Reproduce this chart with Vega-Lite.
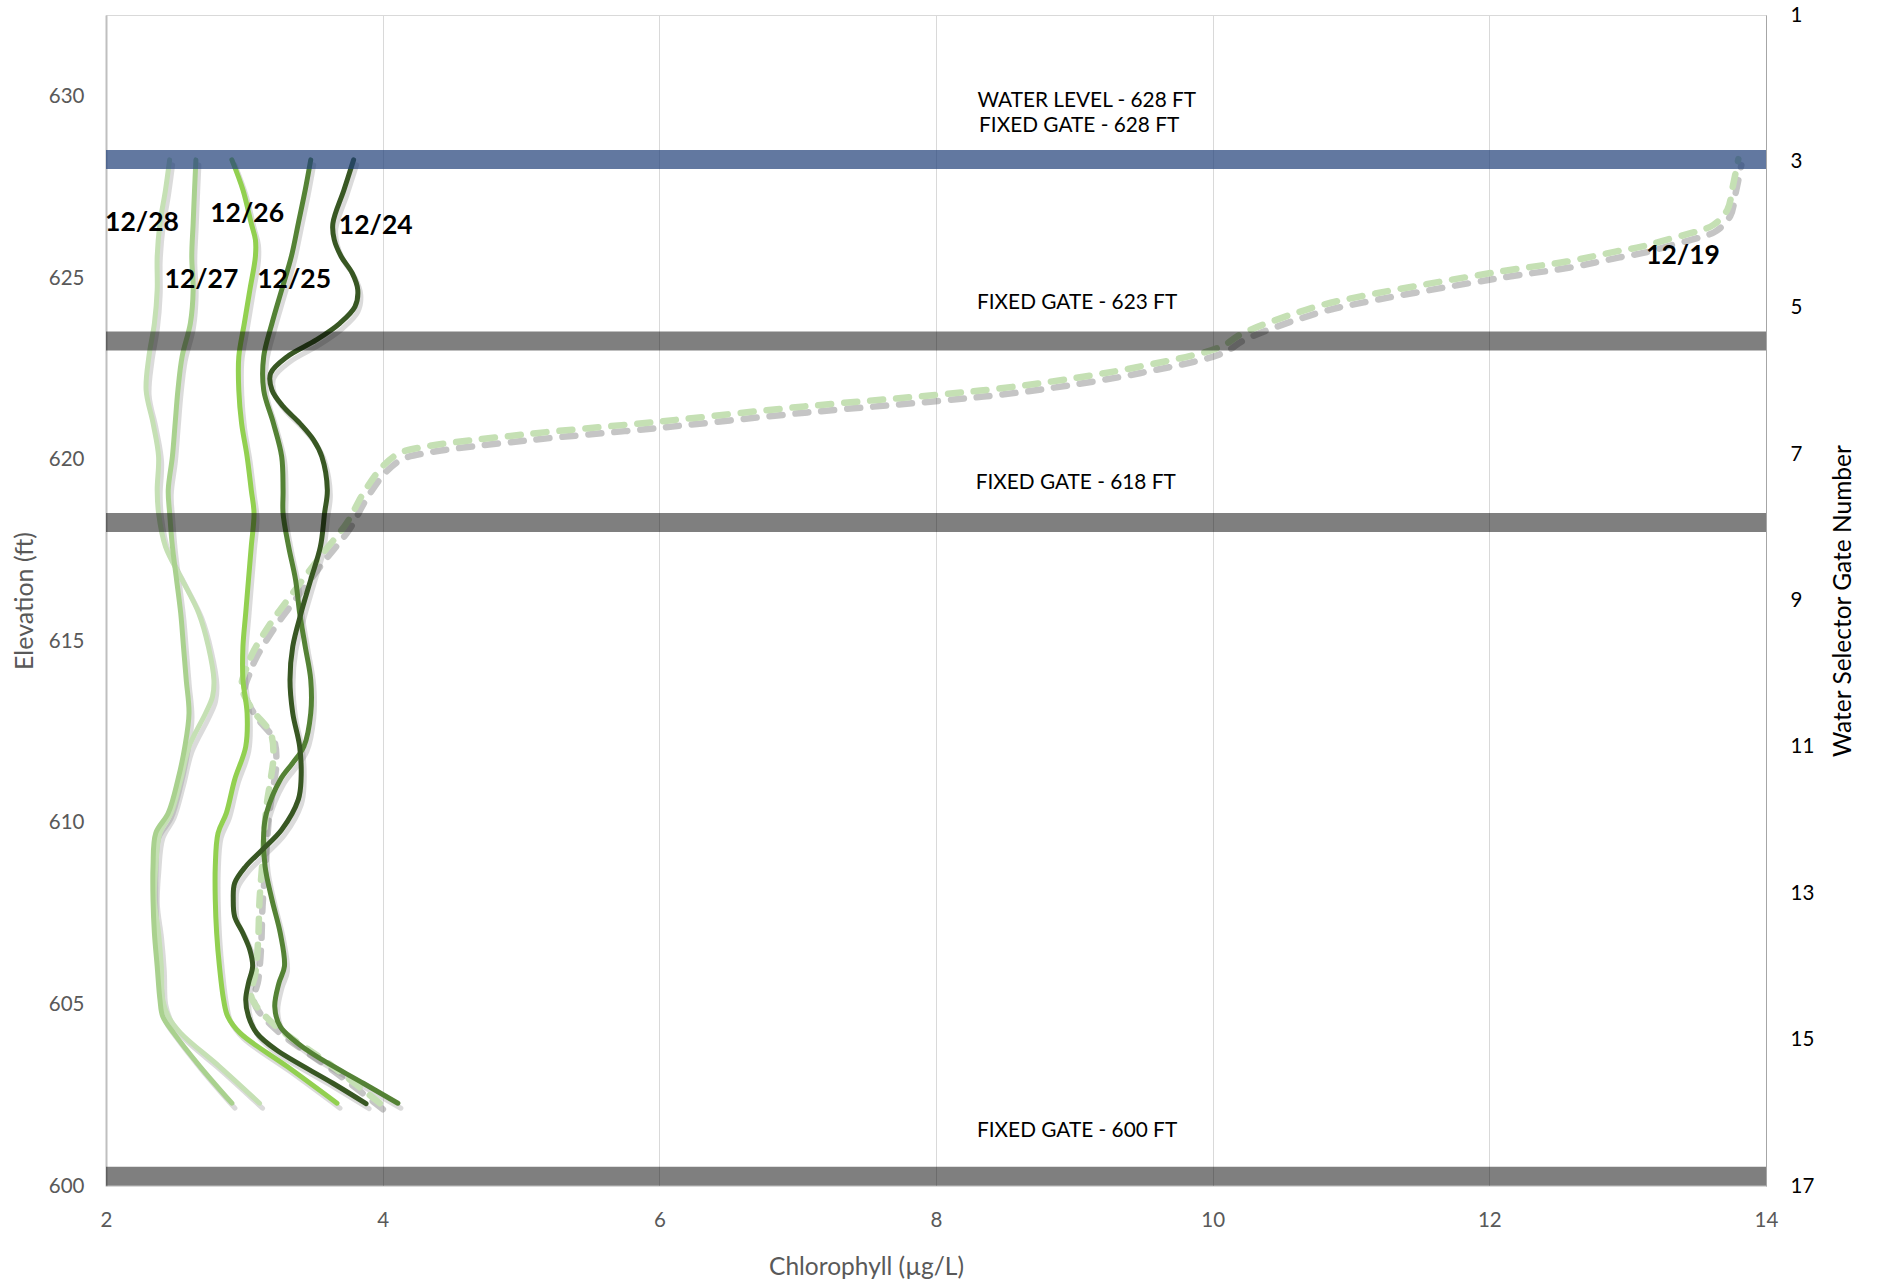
{
"$schema": "https://vega.github.io/schema/vega-lite/v6.json",
"width": 1660, "height": 1171,
"autosize": "none",
"padding": {"left": 106, "top": 15, "right": 111, "bottom": 97},
"background": "white",
"config": {"view": {"stroke": "#d9d9d9", "strokeWidth": 1}, "font": "Lato",
"axisX": {"grid": true, "gridColor": "#d9d9d9", "gridWidth": 1, "ticks": false, "domain": false, "labelPadding": 24, "labelColor": "#595959", "labelFontSize": 20.5, "labelFont": "Lato", "labelFlush": false, "labelOverlap": false, "titleFont": "Lato", "titleColor": "#595959", "titleFontSize": 24.5, "titleFontWeight": "normal", "titleX": 760, "titleY": 81, "titleAlign": "center", "titleBaseline": "middle"},
"axis": {"labelFont": "Lato", "titleFont": "Lato"}},
"datasets": {
"profiles": [
{"d":"12/19","e":628.28,"c":13.80},{"d":"12/19","e":627.53,"c":13.76},{"d":"12/19","e":626.88,"c":13.72},{"d":"12/19","e":626.47,"c":13.62},{"d":"12/19","e":626.29,"c":13.50},{"d":"12/19","e":626.06,"c":13.28},{"d":"12/19","e":625.87,"c":13.10},{"d":"12/19","e":625.74,"c":12.92},{"d":"12/19","e":625.46,"c":12.56},{"d":"12/19","e":625.2,"c":12.1},{"d":"12/19","e":624.50,"c":11.07},{"d":"12/19","e":624.22,"c":10.75},{"d":"12/19","e":623.49,"c":10.22},{"d":"12/19","e":623.10,"c":10.05},{"d":"12/19","e":622.55,"c":9.45},{"d":"12/19","e":622.21,"c":8.93},{"d":"12/19","e":621.97,"c":8.47},{"d":"12/19","e":621.79,"c":8.01},{"d":"12/19","e":621.47,"c":7.05},{"d":"12/19","e":621.05,"c":5.99},{"d":"12/19","e":620.69,"c":5.00},{"d":"12/19","e":620.37,"c":4.32},{"d":"12/19","e":620.18,"c":4.12},{"d":"12/19","e":619.82,"c":4.00},{"d":"12/19","e":619.08,"c":3.86},{"d":"12/19","e":618.26,"c":3.74},{"d":"12/19","e":617.34,"c":3.55},{"d":"12/19","e":616.33,"c":3.35},{"d":"12/19","e":615.50,"c":3.19},{"d":"12/19","e":614.68,"c":3.06},{"d":"12/19","e":614.31,"c":3.02},{"d":"12/19","e":613.76,"c":2.98},{"d":"12/19","e":613.11,"c":3.06},{"d":"12/19","e":612.47,"c":3.19},{"d":"12/19","e":611.83,"c":3.21},{"d":"12/19","e":611.19,"c":3.19},{"d":"12/19","e":610.45,"c":3.16},{"d":"12/19","e":608.89,"c":3.13},{"d":"12/19","e":607.88,"c":3.11},{"d":"12/19","e":606.78,"c":3.10},{"d":"12/19","e":605.86,"c":3.08},{"d":"12/19","e":605.22,"c":3.05},{"d":"12/19","e":604.50,"c":3.20},{"d":"12/19","e":603.29,"c":3.64},{"d":"12/19","e":602.28,"c":3.98},
{"d":"12/28","e":628.26,"c":2.46},{"d":"12/28","e":627.43,"c":2.43},{"d":"12/28","e":626.51,"c":2.39},{"d":"12/28","e":625.60,"c":2.37},{"d":"12/28","e":624.68,"c":2.37},{"d":"12/28","e":623.76,"c":2.35},{"d":"12/28","e":622.84,"c":2.31},{"d":"12/28","e":621.92,"c":2.29},{"d":"12/28","e":621.01,"c":2.34},{"d":"12/28","e":620.09,"c":2.38},{"d":"12/28","e":619.17,"c":2.37},{"d":"12/28","e":618.53,"c":2.38},{"d":"12/28","e":617.61,"c":2.43},{"d":"12/28","e":616.70,"c":2.55},{"d":"12/28","e":615.78,"c":2.67},{"d":"12/28","e":614.86,"c":2.74},{"d":"12/28","e":613.94,"c":2.78},{"d":"12/28","e":613.48,"c":2.77},{"d":"12/28","e":613.02,"c":2.72},{"d":"12/28","e":612.10,"c":2.60},{"d":"12/28","e":611.19,"c":2.54},{"d":"12/28","e":610.27,"c":2.47},{"d":"12/28","e":609.72,"c":2.39},{"d":"12/28","e":608.80,"c":2.36},{"d":"12/28","e":607.88,"c":2.35},{"d":"12/28","e":606.96,"c":2.38},{"d":"12/28","e":606.05,"c":2.40},{"d":"12/28","e":605.13,"c":2.41},{"d":"12/28","e":604.67,"c":2.45},{"d":"12/28","e":604.21,"c":2.54},{"d":"12/28","e":603.29,"c":2.82},{"d":"12/28","e":602.28,"c":3.11},
{"d":"12/27","e":628.26,"c":2.65},{"d":"12/27","e":627.43,"c":2.64},{"d":"12/27","e":626.51,"c":2.63},{"d":"12/27","e":625.60,"c":2.62},{"d":"12/27","e":624.68,"c":2.63},{"d":"12/27","e":623.76,"c":2.61},{"d":"12/27","e":622.84,"c":2.55},{"d":"12/27","e":621.92,"c":2.52},{"d":"12/27","e":621.01,"c":2.50},{"d":"12/27","e":620.09,"c":2.48},{"d":"12/27","e":619.17,"c":2.45},{"d":"12/27","e":618.53,"c":2.46},{"d":"12/27","e":617.61,"c":2.48},{"d":"12/27","e":616.70,"c":2.51},{"d":"12/27","e":615.78,"c":2.54},{"d":"12/27","e":614.86,"c":2.56},{"d":"12/27","e":613.94,"c":2.58},{"d":"12/27","e":613.02,"c":2.60},{"d":"12/27","e":612.10,"c":2.57},{"d":"12/27","e":611.19,"c":2.52},{"d":"12/27","e":610.27,"c":2.45},{"d":"12/27","e":609.72,"c":2.36},{"d":"12/27","e":608.80,"c":2.34},{"d":"12/27","e":607.88,"c":2.34},{"d":"12/27","e":606.96,"c":2.35},{"d":"12/27","e":606.05,"c":2.37},{"d":"12/27","e":605.13,"c":2.39},{"d":"12/27","e":604.67,"c":2.41},{"d":"12/27","e":604.21,"c":2.49},{"d":"12/27","e":603.29,"c":2.68},{"d":"12/27","e":602.28,"c":2.91},
{"d":"12/26","e":628.26,"c":2.91},{"d":"12/26","e":627.43,"c":2.99},{"d":"12/26","e":626.51,"c":3.05},{"d":"12/26","e":626.06,"c":3.08},{"d":"12/26","e":625.60,"c":3.08},{"d":"12/26","e":624.68,"c":3.04},{"d":"12/26","e":623.76,"c":3.00},{"d":"12/26","e":622.84,"c":2.96},{"d":"12/26","e":621.92,"c":2.96},{"d":"12/26","e":621.01,"c":2.98},{"d":"12/26","e":620.09,"c":3.02},{"d":"12/26","e":619.17,"c":3.05},{"d":"12/26","e":618.53,"c":3.07},{"d":"12/26","e":617.61,"c":3.05},{"d":"12/26","e":616.70,"c":3.03},{"d":"12/26","e":615.78,"c":3.01},{"d":"12/26","e":614.86,"c":2.99},{"d":"12/26","e":613.94,"c":2.99},{"d":"12/26","e":613.02,"c":3.02},{"d":"12/26","e":612.10,"c":3.01},{"d":"12/26","e":611.19,"c":2.93},{"d":"12/26","e":610.27,"c":2.87},{"d":"12/26","e":609.72,"c":2.81},{"d":"12/26","e":608.80,"c":2.79},{"d":"12/26","e":607.88,"c":2.79},{"d":"12/26","e":606.96,"c":2.80},{"d":"12/26","e":606.05,"c":2.82},{"d":"12/26","e":605.13,"c":2.85},{"d":"12/26","e":604.67,"c":2.88},{"d":"12/26","e":604.21,"c":2.97},{"d":"12/26","e":603.29,"c":3.31},{"d":"12/26","e":602.28,"c":3.67},
{"d":"12/25","e":628.26,"c":3.48},{"d":"12/25","e":627.43,"c":3.44},{"d":"12/25","e":626.51,"c":3.39},{"d":"12/25","e":625.60,"c":3.34},{"d":"12/25","e":624.68,"c":3.27},{"d":"12/25","e":623.76,"c":3.20},{"d":"12/25","e":622.84,"c":3.14},{"d":"12/25","e":621.92,"c":3.14},{"d":"12/25","e":621.01,"c":3.21},{"d":"12/25","e":620.09,"c":3.27},{"d":"12/25","e":619.17,"c":3.28},{"d":"12/25","e":618.53,"c":3.28},{"d":"12/25","e":617.61,"c":3.32},{"d":"12/25","e":616.70,"c":3.37},{"d":"12/25","e":615.78,"c":3.40},{"d":"12/25","e":614.86,"c":3.44},{"d":"12/25","e":613.94,"c":3.48},{"d":"12/25","e":613.02,"c":3.48},{"d":"12/25","e":612.10,"c":3.43},{"d":"12/25","e":611.65,"c":3.35},{"d":"12/25","e":611.19,"c":3.26},{"d":"12/25","e":610.27,"c":3.16},{"d":"12/25","e":609.72,"c":3.14},{"d":"12/25","e":608.80,"c":3.15},{"d":"12/25","e":607.88,"c":3.20},{"d":"12/25","e":606.96,"c":3.26},{"d":"12/25","e":606.05,"c":3.29},{"d":"12/25","e":605.59,"c":3.25},{"d":"12/25","e":604.94,"c":3.22},{"d":"12/25","e":604.39,"c":3.26},{"d":"12/25","e":603.75,"c":3.45},{"d":"12/25","e":602.83,"c":3.86},{"d":"12/25","e":602.28,"c":4.11},
{"d":"12/24","e":628.26,"c":3.79},{"d":"12/24","e":627.43,"c":3.72},{"d":"12/24","e":626.51,"c":3.64},{"d":"12/24","e":626.06,"c":3.65},{"d":"12/24","e":625.60,"c":3.70},{"d":"12/24","e":625.14,"c":3.78},{"d":"12/24","e":624.68,"c":3.82},{"d":"12/24","e":624.22,"c":3.80},{"d":"12/24","e":623.76,"c":3.69},{"d":"12/24","e":623.30,"c":3.52},{"d":"12/24","e":622.84,"c":3.31},{"d":"12/24","e":622.38,"c":3.19},{"d":"12/24","e":621.92,"c":3.20},{"d":"12/24","e":621.47,"c":3.28},{"d":"12/24","e":621.01,"c":3.40},{"d":"12/24","e":620.55,"c":3.50},{"d":"12/24","e":620.09,"c":3.56},{"d":"12/24","e":619.17,"c":3.60},{"d":"12/24","e":618.53,"c":3.58},{"d":"12/24","e":617.61,"c":3.55},{"d":"12/24","e":616.70,"c":3.48},{"d":"12/24","e":615.78,"c":3.41},{"d":"12/24","e":614.86,"c":3.35},{"d":"12/24","e":613.94,"c":3.33},{"d":"12/24","e":613.02,"c":3.35},{"d":"12/24","e":612.10,"c":3.40},{"d":"12/24","e":611.19,"c":3.41},{"d":"12/24","e":610.64,"c":3.39},{"d":"12/24","e":609.81,"c":3.27},{"d":"12/24","e":609.26,"c":3.13},{"d":"12/24","e":608.80,"c":3.01},{"d":"12/24","e":608.34,"c":2.93},{"d":"12/24","e":607.88,"c":2.92},{"d":"12/24","e":607.42,"c":2.93},{"d":"12/24","e":606.96,"c":2.99},{"d":"12/24","e":606.50,"c":3.04},{"d":"12/24","e":606.05,"c":3.06},{"d":"12/24","e":605.59,"c":3.03},{"d":"12/24","e":605.13,"c":3.01},{"d":"12/24","e":604.67,"c":3.03},{"d":"12/24","e":604.21,"c":3.09},{"d":"12/24","e":603.75,"c":3.23},{"d":"12/24","e":602.83,"c":3.64},{"d":"12/24","e":602.27,"c":3.88}
],
"bars": [
{"k":"water","e":628.27},{"k":"gate","e":623.27},{"k":"gate","e":618.27},{"k":"gate","e":600.27}
],
"notes": [
{"t":"WATER LEVEL - 628 FT","c":9.09,"e":629.87},{"t":"FIXED GATE - 628 FT","c":9.035,"e":629.18},{"t":"FIXED GATE - 623 FT","c":9.02,"e":624.32},{"t":"FIXED GATE - 618 FT","c":9.01,"e":619.36},{"t":"FIXED GATE - 600 FT","c":9.02,"e":601.52}
],
"dates": [
{"t":"12/28","c":2.26,"e":626.52},{"t":"12/26","c":3.02,"e":626.77},{"t":"12/24","c":3.95,"e":626.44},{"t":"12/27","c":2.69,"e":624.96},{"t":"12/25","c":3.36,"e":624.96},{"t":"12/19","c":13.40,"e":625.62}
]
},
"layer": [
{
"data": {"name": "profiles"},
"transform": [{"filter": "datum.d !== '12/19'"}],
"mark": {"type": "line", "interpolate": "catmull-rom", "color": "#6f6f6f", "opacity": 0.25, "strokeWidth": 5, "strokeCap": "round", "xOffset": 3, "yOffset": 5},
"encoding": {
"x": {"field": "c", "type": "quantitative", "scale": {"domain": [2, 14], "nice": false, "zero": false}, "title": "Chlorophyll (µg/L)", "axis": {"values": [2, 4, 6, 8, 10, 12, 14]}},
"y": {"field": "e", "type": "quantitative", "scale": {"domain": [600, 632.25], "nice": false, "zero": false},
"axis": {"orient": "left", "values": [600, 605, 610, 615, 620, 625, 630], "title": "Elevation (ft)", "grid": false, "ticks": false, "domainColor": "#bfbfbf", "domainWidth": 2, "labelPadding": 22, "labelColor": "#595959", "labelFontSize": 20.5, "labelOverlap": false, "titleColor": "#595959", "titleFontSize": 25, "titleFontWeight": "normal", "titleX": -82, "titleY": 585.5, "titleAlign": "center", "titleBaseline": "middle", "titleAngle": 270}},
"detail": {"field": "d"},
"order": {"field": "e", "type": "quantitative"}
}
},
{
"data": {"name": "profiles"},
"transform": [{"filter": "datum.d === '12/19'"}],
"mark": {"type": "line", "interpolate": "catmull-rom", "color": "#6f6f6f", "opacity": 0.4, "strokeWidth": 6.5, "strokeDash": [13, 13], "strokeCap": "round", "xOffset": 3, "yOffset": 6},
"encoding": {
"x": {"field": "c", "type": "quantitative", "scale": {"domain": [2, 14], "nice": false, "zero": false}, "title": "Chlorophyll (µg/L)", "axis": {"values": [2, 4, 6, 8, 10, 12, 14]}},
"y": {"field": "e", "type": "quantitative", "scale": {"domain": [600, 632.25], "nice": false, "zero": false}, "axis": null},
"order": {"field": "e", "type": "quantitative"}
}
},
{
"data": {"name": "profiles"},
"transform": [{"filter": "datum.d === '12/19'"}],
"mark": {"type": "line", "interpolate": "catmull-rom", "color": "#c5e0b4", "strokeWidth": 6.5, "strokeDash": [13, 13], "strokeCap": "round"},
"encoding": {
"x": {"field": "c", "type": "quantitative", "scale": {"domain": [2, 14], "nice": false, "zero": false}, "title": "Chlorophyll (µg/L)", "axis": {"values": [2, 4, 6, 8, 10, 12, 14]}},
"y": {"field": "e", "type": "quantitative", "scale": {"domain": [600, 632.25], "nice": false, "zero": false}, "axis": null},
"order": {"field": "e", "type": "quantitative"}
}
},
{
"data": {"name": "profiles"},
"transform": [{"filter": "datum.d !== '12/19'"}],
"mark": {"type": "line", "interpolate": "catmull-rom", "strokeWidth": 5, "strokeCap": "round"},
"encoding": {
"x": {"field": "c", "type": "quantitative", "scale": {"domain": [2, 14], "nice": false, "zero": false}, "title": "Chlorophyll (µg/L)", "axis": {"values": [2, 4, 6, 8, 10, 12, 14]}},
"y": {"field": "e", "type": "quantitative", "scale": {"domain": [600, 632.25], "nice": false, "zero": false}, "axis": null},
"color": {"field": "d", "type": "nominal", "scale": {"domain": ["12/28", "12/27", "12/26", "12/25", "12/24"], "range": ["#c5e0b4", "#a9d18e", "#92d050", "#548235", "#385723"]}, "legend": null},
"order": {"field": "e", "type": "quantitative"}
}
},
{
"data": {"name": "bars"},
"transform": [{"filter": "datum.k === 'water'"}],
"mark": {"type": "rule", "color": "#1f3f78", "opacity": 0.7, "strokeWidth": 19},
"encoding": {
"y": {"field": "e", "type": "quantitative", "scale": {"domain": [600, 632.25], "nice": false, "zero": false}, "axis": null}
}
},
{
"data": {"name": "bars"},
"transform": [{"filter": "datum.k === 'gate'"}],
"mark": {"type": "rule", "color": "#000000", "opacity": 0.5, "strokeWidth": 19},
"encoding": {
"y": {"field": "e", "type": "quantitative", "scale": {"domain": [600, 632.25], "nice": false, "zero": false}, "axis": null}
}
},
{
"data": {"name": "notes"},
"mark": {"type": "text", "font": "Lato", "fontSize": 20.8, "color": "#000000", "align": "center", "baseline": "middle"},
"encoding": {
"x": {"field": "c", "type": "quantitative", "scale": {"domain": [2, 14], "nice": false, "zero": false}, "title": "Chlorophyll (µg/L)", "axis": {"values": [2, 4, 6, 8, 10, 12, 14]}},
"y": {"field": "e", "type": "quantitative", "scale": {"domain": [600, 632.25], "nice": false, "zero": false}, "axis": null},
"text": {"field": "t"}
}
},
{
"data": {"name": "dates"},
"mark": {"type": "text", "font": "Lato", "fontSize": 26.5, "fontWeight": "bold", "color": "#000000", "align": "center", "baseline": "middle"},
"encoding": {
"x": {"field": "c", "type": "quantitative", "scale": {"domain": [2, 14], "nice": false, "zero": false}, "title": "Chlorophyll (µg/L)", "axis": {"values": [2, 4, 6, 8, 10, 12, 14]}},
"y": {"field": "e", "type": "quantitative", "scale": {"domain": [600, 632.25], "nice": false, "zero": false}, "axis": null},
"text": {"field": "t"}
}
},
{
"data": {"values": [{"g": 1}, {"g": 17}]},
"mark": {"type": "point", "opacity": 0},
"encoding": {
"y": {"field": "g", "type": "quantitative", "scale": {"domain": [1, 17], "reverse": true, "nice": false, "zero": false},
"axis": {"orient": "right", "values": [1, 3, 5, 7, 9, 11, 13, 15, 17], "title": "Water Selector Gate Number", "grid": false, "ticks": false, "domainColor": "#a6a6a6", "domainWidth": 1, "labelPadding": 24, "labelColor": "#000000", "labelFontSize": 20.5, "labelOverlap": false, "titleColor": "#000000", "titleFontSize": 24.5, "titleFontWeight": "normal", "titleAngle": 270, "titleX": 77, "titleY": 585.5, "titleAlign": "center", "titleBaseline": "middle"}}
}
}
],
"resolve": {"scale": {"y": "independent"}}
}
